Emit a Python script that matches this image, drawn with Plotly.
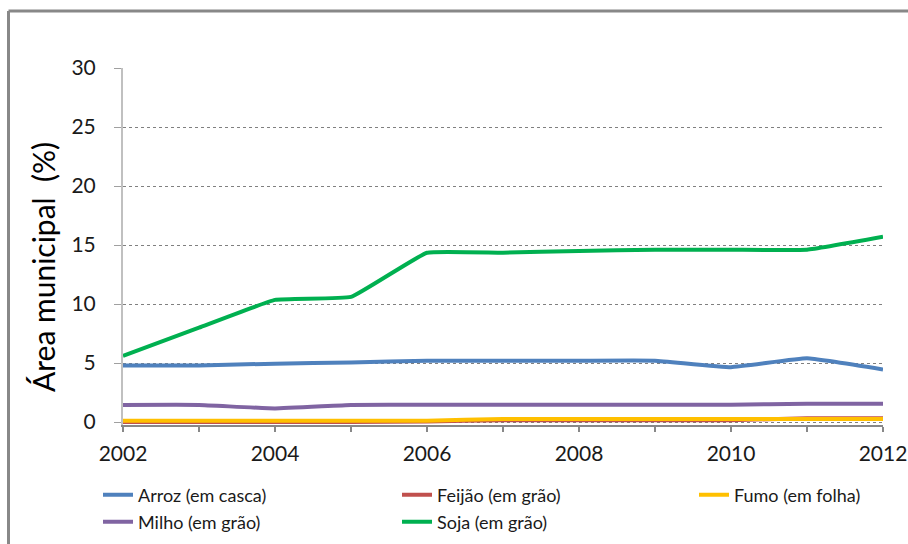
import plotly.graph_objects as go

# Share of the municipal area planted with each crop (%), 2002-2012
years = [2002, 2003, 2004, 2005, 2006, 2007, 2008, 2009, 2010, 2011, 2012]
arroz = [4.8, 4.8, 4.95, 5.05, 5.2, 5.2, 5.2, 5.2, 4.65, 5.4, 4.45]
feijao = [0.0, 0.0, 0.0, 0.0, 0.05, 0.15, 0.15, 0.15, 0.15, 0.33, 0.33]
fumo = [0.12, 0.12, 0.12, 0.12, 0.12, 0.25, 0.25, 0.25, 0.25, 0.25, 0.25]
milho = [1.45, 1.45, 1.15, 1.45, 1.47, 1.47, 1.47, 1.47, 1.47, 1.55, 1.55]
soja = [5.6, 8.0, 10.35, 10.6, 14.35, 14.35, 14.5, 14.6, 14.6, 14.6, 15.7]

# name, values, colour, legend slot
series = [
    ("Arroz (em casca)", arroz, "#4F81BD", "legend"),
    ("Feijão (em grão)", feijao, "#C0504D", "legend2"),
    ("Fumo (em folha)", fumo, "#FFC000", "legend3"),
    ("Milho (em grão)", milho, "#8064A2", "legend4"),
    ("Soja (em grão)", soja, "#00B050", "legend5"),
]

y_ticks = [0, 5, 10, 15, 20, 25, 30]
x_ticks = [2002, 2004, 2006, 2008, 2010, 2012]

W, H = 908, 544
ML, MR, MT, MB = 123, 25, 68, 119
FONT = "Lato, 'Open Sans', sans-serif"

fig = go.Figure()
for name, vals, color, leg in series:
    fig.add_trace(go.Scatter(
        x=years, y=vals, name=name, mode="lines", legend=leg,
        line=dict(color=color, width=4, shape="spline", smoothing=0.3),
    ))

# Outer chart frame (left and top edges), expressed in paper units
pw, ph = W - ML - MR, H - MT - MB
def px_x(px):
    return (px - ML) / pw
def px_y(py):
    return (H - MB - py) / ph

frame = dict(color="#888888", width=3)
fig.add_shape(type="line", xref="paper", yref="paper",
              x0=px_x(8.5), x1=px_x(W + 5), y0=px_y(11), y1=px_y(11), line=frame)
fig.add_shape(type="line", xref="paper", yref="paper",
              x0=px_x(8.5), x1=px_x(8.5), y0=px_y(11), y1=px_y(H + 5), line=frame)

# Y-axis title
fig.add_annotation(
    text="Área municipal  (%)", textangle=-90, showarrow=False,
    xref="paper", yref="paper", x=px_x(43), y=px_y(267),
    xanchor="center", yanchor="middle",
    font=dict(size=30, family=FONT, color="#000000"),
)

# Legend: three columns, two rows
def legend_at(px, py):
    return dict(
        orientation="v", xref="container", yref="container",
        x=px / W, y=1 - py / H, xanchor="left", yanchor="middle",
        font=dict(family=FONT, size=18, color="#1a1a1a"),
        bgcolor="rgba(0,0,0,0)", borderwidth=0,
        itemclick=False, itemdoubleclick=False,
    )

fig.update_layout(
    width=W, height=H,
    margin=dict(l=ML, r=MR, t=MT, b=MB, autoexpand=False),
    paper_bgcolor="white", plot_bgcolor="white",
    font=dict(family=FONT, color="#1a1a1a"),
    showlegend=True,
    legend=legend_at(98, 495),
    legend2=legend_at(397, 495),
    legend3=legend_at(694, 495),
    legend4=legend_at(98, 522),
    legend5=legend_at(397, 522),
    xaxis=dict(
        range=[2002, 2012], tickmode="array", tickvals=x_ticks,
        ticktext=[str(v) for v in x_ticks],
        showgrid=False, zeroline=False, automargin=False,
        showline=True, linecolor="#888888", linewidth=2,
        ticks="outside", ticklen=5, tickwidth=2, tickcolor="#888888",
        minor=dict(dtick=1, ticks="outside", ticklen=5, tickwidth=2, tickcolor="#888888"),
        tickfont=dict(size=21, color="#1a1a1a"),
        ticklabelstandoff=4,
    ),
    yaxis=dict(
        range=[-0.25, 30], tickmode="array", tickvals=y_ticks,
        showgrid=True, gridcolor="#808080", gridwidth=1, griddash="dot",
        zeroline=False, automargin=False,
        showline=True, linecolor="#C0C0C0", linewidth=2,
        ticks="outside", ticklen=7, tickwidth=1, tickcolor="#A0A0A0",
        tickfont=dict(size=21, color="#1a1a1a"),
        ticklabelstandoff=14,
    ),
)

fig.write_html("out.html")
